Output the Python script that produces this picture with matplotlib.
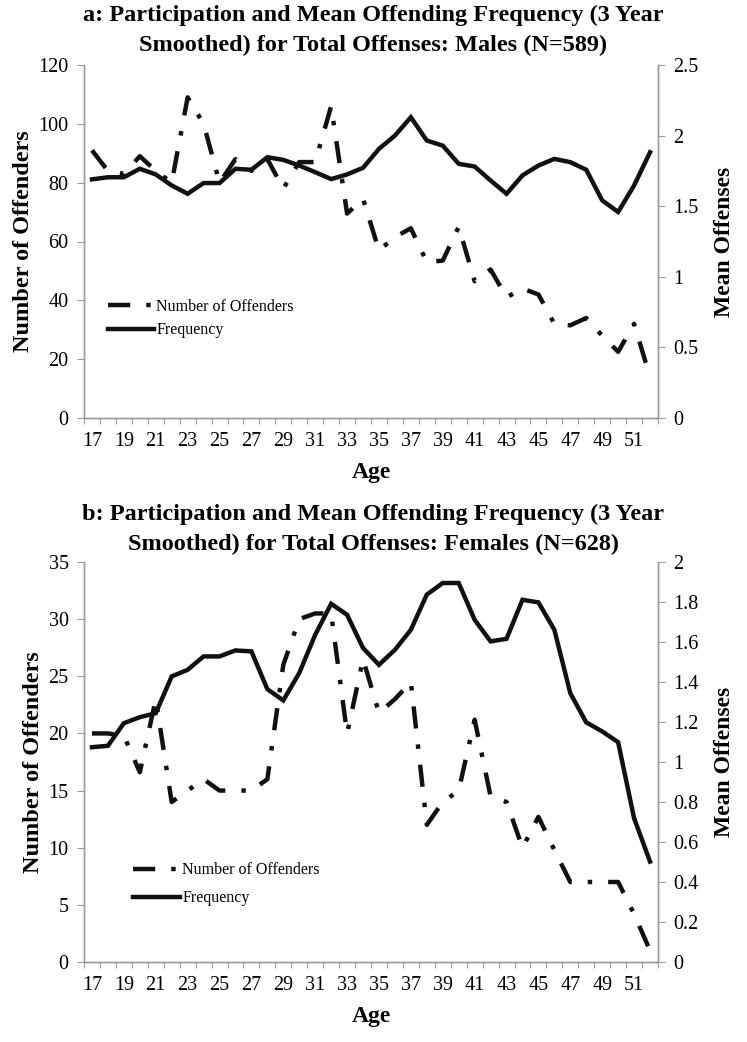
import matplotlib
matplotlib.use("Agg")
import matplotlib.pyplot as plt

plt.rcParams["font.family"] = ["Liberation Serif", "DejaVu Serif"]

# ── data ────────────────────────────────────────────────────────────────────
ages = list(range(17, 53))

male_offenders = [91, 84, 83, 89, 84, 80, 109, 100, 80, 88, 84, 88, 78, 87, 87, 106,
                  69.5, 74.5, 57, 61.5, 64.5, 53, 53.5, 65, 46.5, 50.5, 41, 44, 42, 32,
                  31.5, 34, 28, 22.5, 32, 14]
male_freq = [1.69, 1.705, 1.705, 1.765, 1.725, 1.647, 1.588, 1.664, 1.664, 1.765,
             1.758, 1.847, 1.828, 1.788, 1.741, 1.692, 1.725, 1.772, 1.906, 2.0,
             2.13, 1.965, 1.929, 1.80, 1.781, 1.682, 1.588, 1.718, 1.788, 1.835,
             1.812, 1.758, 1.541, 1.459, 1.647, 1.882]

female_offenders = [20, 20, 19.8, 16.6, 23, 14, 15, 16, 15, 15, 15, 16, 26, 30, 30.5,
                    30.5, 20, 26.5, 21.8, 23, 24.5, 12, 14, 15, 21.2, 14.5, 14, 10,
                    12.7, 9.8, 7, 7, 7, 7, 4.2, 1]
female_freq = [1.074, 1.081, 1.194, 1.224, 1.244, 1.428, 1.461, 1.528, 1.528, 1.558,
               1.553, 1.364, 1.308, 1.445, 1.636, 1.791, 1.736, 1.57, 1.486, 1.561,
               1.661, 1.837, 1.895, 1.895, 1.711, 1.603, 1.616, 1.811, 1.798, 1.661,
               1.344, 1.198, 1.153, 1.099, 0.719, 0.502]

top_title = ("a: Participation and Mean Offending Frequency (3 Year\n"
             "Smoothed) for Total Offenses: Males (N=589)")
bottom_title = ("b: Participation and Mean Offending Frequency (3 Year\n"
                "Smoothed) for Total Offenses: Females (N=628)")

GRAY = "#9a9a9a"
DASHDOT = (0, (5.0, 3.6, 1.0, 3.6))
W, H = 747, 1042


def panel(rect, offenders, freq, left_max, left_step, right_max, right_step,
          legend_xy, legend_gap):
    ax = fig.add_axes(rect)
    ax2 = ax.twinx()
    x = list(range(len(ages)))

    l1, = ax.plot(x, offenders, color="#111111", lw=3.2, linestyle=DASHDOT,
                  dash_capstyle="butt", label="Number of Offenders")
    l2, = ax2.plot(x, freq, color="#111111", lw=3.2, solid_joinstyle="miter",
                   label="Frequency")

    ax.set_xlim(-0.5, len(ages) - 0.5)
    ax.set_ylim(0, left_max)
    ax2.set_ylim(0, right_max)

    n = int(round(left_max / left_step))
    ax.set_yticks([i * left_step for i in range(n + 1)])
    m = int(round(right_max / right_step))
    rt = [i * right_step for i in range(m + 1)]
    ax2.set_yticks(rt)
    ax2.set_yticklabels([f"{v:g}" for v in rt])

    # category axis: ticks between categories, labels every second age
    ax.set_xticks([i - 0.5 for i in range(len(ages) + 1)])
    ax.set_xticklabels([])
    ax.set_xticks(x[::2], minor=True)
    ax.set_xticklabels([str(a) for a in ages[::2]], minor=True)
    ax.tick_params(axis="x", which="major", length=4, color=GRAY, direction="out")
    ax.tick_params(axis="x", which="minor", length=0, pad=10, labelsize=14.5)
    ax.tick_params(axis="y", length=5, color=GRAY, pad=6, labelsize=14.5)
    ax2.tick_params(axis="y", length=5, color=GRAY, pad=6, labelsize=14.5)

    for a in (ax, ax2):
        a.spines["top"].set_visible(False)
        for s in ("left", "right", "bottom"):
            a.spines[s].set_color(GRAY)
            a.spines[s].set_linewidth(1.0)

    ax.set_xlabel("Age", fontsize=17, fontweight="bold", labelpad=8)
    ax.set_ylabel("Number of Offenders", fontsize=17.5, fontweight="bold", labelpad=3)
    ax2.set_ylabel("Mean Offenses", fontsize=17, fontweight="bold", labelpad=11)

    ax.legend(handles=[l1, l2], loc="upper left", bbox_to_anchor=legend_xy,
              frameon=False, fontsize=11.5, handlelength=2.9, handletextpad=0.15,
              labelspacing=legend_gap, borderaxespad=0)
    return ax


fig = plt.figure(figsize=(W / 100, H / 100), dpi=100)

panel([84 / W, 1 - 418 / H, 574 / W, 353 / H], male_offenders, male_freq,
      120, 20, 2.5, 0.5, (0.03, 0.355), 0.45)
panel([84 / W, 1 - 962 / H, 574 / W, 400 / H], female_offenders, female_freq,
      35, 5, 2.0, 0.2, (0.075, 0.265), 0.75)

fig.text(0.5, 1 - 30 / H, top_title, ha="center", va="center", fontsize=17.5,
         fontweight="bold", linespacing=1.55)
fig.text(0.5, 1 - 529 / H, bottom_title, ha="center", va="center", fontsize=17.5,
         fontweight="bold", linespacing=1.55)

fig.savefig("out.png", dpi=100)
